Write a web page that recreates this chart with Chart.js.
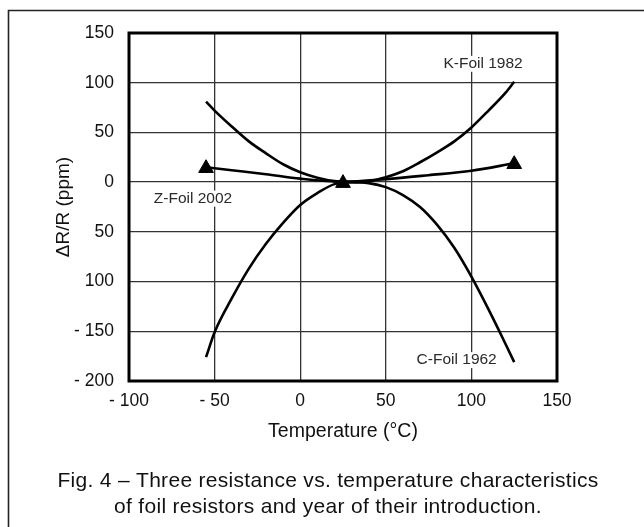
<!DOCTYPE html>
<html>
<head>
<meta charset="utf-8">
<script src="https://cdn.jsdelivr.net/npm/chart.js@4.4.1/dist/chart.umd.min.js"></script>
<style>
  body { margin: 0; background: #fff; }
  canvas { display: block; }
</style>
</head>
<body>
<canvas id="foilChart" width="644" height="527"></canvas>
<script>
// temperatures (°C)
var temps = [-55, -50, -40, -30, -20, -10, 0, 10, 20, 30, 40, 50, 60, 70, 80, 90, 100, 110, 120, 125];
var kFoil = [81, 72, 56, 41, 29, 18, 10, 4.5, 1, 0, 1, 5, 11, 20, 30, 41, 55, 72, 90, 101];
var cFoil = [-176, -151, -117, -87, -62, -41, -23, -11, -2, 0, -1, -5, -13, -25, -43, -66, -95, -128, -163, -181];

var zTemps = [-55, -40, -20, 0, 25, 50, 75, 100, 125];
var zFoil = [15, 12, 8, 3.5, 0.5, 3, 7, 11.5, 19];

var markerTemps = [-55, 25, 125];
var markerValues = [14, -1, 18];

var xTickLabels = ["- 100", "- 50", "0", "50", "100", "150"];
var yTickLabels = ["- 200", "- 150", "100", "50", "0", "50", "100", "150"];

// curve names and where they sit (data coords)
var curveLabels = ["K-Foil 1982", "Z-Foil 2002", "C-Foil 1962"];
var labelTemps = [106.8, -62.6, 91.4];
var labelValues = [119, -16.6, -179];

var captionLines = [
  "Fig. 4 \u2013 Three resistance vs. temperature characteristics",
  "of foil resistors and year of their introduction."
];

function toPoints(xs, ys) {
  return xs.map(function (x, i) {
    return { x: x, y: ys[i] };
  });
}

Chart.defaults.font.family = '"Liberation Sans", Arial, Helvetica, sans-serif';
Chart.defaults.color = "#111";

var lineStyle = {
  showLine: true,
  borderColor: "#000",
  borderWidth: 2.6,
  pointRadius: 0,
  cubicInterpolationMode: "monotone",
  fill: false,
};

var extras = {
  id: "extras",
  afterDatasetsDraw: function (chart) {
    var ctx = chart.ctx;
    var xs = chart.scales.x;
    var ys = chart.scales.y;
    ctx.save();
    ctx.font = '15.5px "Liberation Sans", Arial, sans-serif';
    ctx.textAlign = "center";
    ctx.textBaseline = "middle";
    for (var i = 0; i < curveLabels.length; i++) {
      var px = xs.getPixelForValue(labelTemps[i]);
      var py = ys.getPixelForValue(labelValues[i]);
      var w = ctx.measureText(curveLabels[i]).width;
      ctx.fillStyle = "#fff";
      ctx.fillRect(px - w / 2 - 2, py - 8, w + 4, 16);
      ctx.fillStyle = "#2a2a2a";
      ctx.fillText(curveLabels[i], px, py);
    }
    ctx.restore();
  },
  afterDraw: function (chart) {
    var ctx = chart.ctx;
    var a = chart.chartArea;
    ctx.save();
    // plot frame
    ctx.strokeStyle = "#000";
    ctx.lineWidth = 3;
    ctx.strokeRect(a.left, a.top, a.right - a.left, a.bottom - a.top);
    // figure border (top and left only)
    ctx.strokeStyle = "#222";
    ctx.lineWidth = 1.6;
    ctx.beginPath();
    ctx.moveTo(8.5, 527);
    ctx.lineTo(8.5, 10.5);
    ctx.lineTo(644, 10.5);
    ctx.stroke();
    // caption
    ctx.fillStyle = "#111";
    ctx.font = '21px "Liberation Sans", Arial, sans-serif';
    ctx.letterSpacing = "0.3px";
    ctx.textAlign = "center";
    ctx.textBaseline = "middle";
    ctx.fillText(captionLines[0], 328, 481);
    ctx.fillText(captionLines[1], 328, 507);
    ctx.restore();
  },
};

var ctx = document.getElementById("foilChart");

window.chart = new Chart(ctx, {
  type: "scatter",
  data: {
    datasets: [
      Object.assign({ label: "K-Foil 1982", data: toPoints(temps, kFoil) }, lineStyle),
      Object.assign({ label: "C-Foil 1962", data: toPoints(temps, cFoil) }, lineStyle),
      Object.assign({ label: "Z-Foil 2002", data: toPoints(zTemps, zFoil) }, lineStyle),
      {
        label: "Z-Foil points",
        data: toPoints(markerTemps, markerValues),
        showLine: false,
        pointStyle: "triangle",
        pointRadius: 8.5,
        backgroundColor: "#000",
        borderColor: "#000",
        borderWidth: 1,
      },
    ],
  },
  options: {
    responsive: false,
    animation: false,
    layout: {
      padding: { top: 33, right: 87, bottom: 76, left: 0 },
    },
    plugins: {
      legend: { display: false },
      tooltip: { enabled: false },
    },
    scales: {
      x: {
        type: "linear",
        min: -100,
        max: 150,
        ticks: {
          stepSize: 50,
          padding: 10,
          font: { size: 17.5 },
          color: "#111",
          maxRotation: 0,
          callback: function (value, index) {
            return xTickLabels[index];
          },
        },
        grid: { color: "#333", lineWidth: 1.3, drawTicks: false },
        border: { display: false },
        title: {
          display: true,
          text: "Temperature (\u00b0C)",
          font: { size: 19.5 },
          color: "#111",
          padding: { top: 0, bottom: 8 },
        },
        afterFit: function (scale) {
          scale.height = 70;
        },
      },
      y: {
        type: "linear",
        min: -200,
        max: 150,
        ticks: {
          stepSize: 50,
          padding: 15,
          font: { size: 17.5 },
          color: "#111",
          callback: function (value, index) {
            return yTickLabels[index];
          },
        },
        grid: { color: "#333", lineWidth: 1.3, drawTicks: false },
        border: { display: false },
        title: {
          display: true,
          text: "\u0394R/R (ppm)",
          font: { size: 19 },
          color: "#111",
          padding: { top: 52.5, bottom: 0 },
        },
        afterFit: function (scale) {
          scale.width = 129;
        },
      },
    },
  },
  plugins: [extras],
});
</script>
</body>
</html>
